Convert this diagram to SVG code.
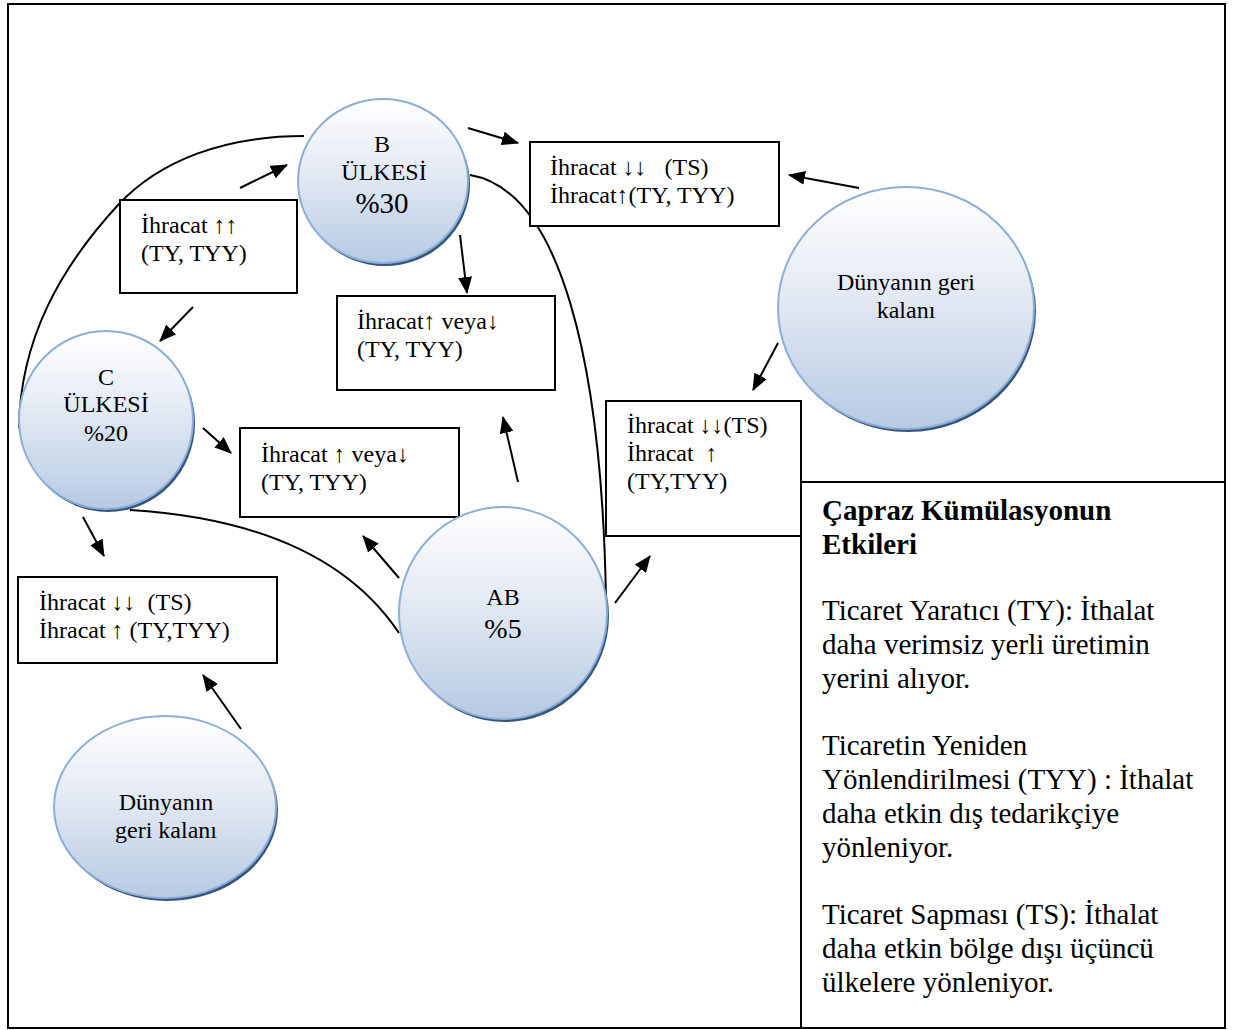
<svg xmlns="http://www.w3.org/2000/svg" width="1234" height="1030" viewBox="0 0 1234 1030">
<defs>
<linearGradient id="g" x1="0" y1="0" x2="0" y2="1">
<stop offset="0" stop-color="#ffffff"/>
<stop offset="0.45" stop-color="#e3e9f3"/>
<stop offset="1" stop-color="#b6cae3"/>
</linearGradient>
<marker id="ah" markerUnits="userSpaceOnUse" markerWidth="18" markerHeight="14" refX="16" refY="7" orient="auto">
<path d="M0,0 L17,7 L0,14 Z" fill="#000"/>
</marker>
<style>
.frame{fill:none;stroke:#000;stroke-width:2}
.box{fill:#fff;stroke:#000;stroke-width:2}
.sh{fill:#34557f}
.el{fill:url(#g);stroke:#8eaed6;stroke-width:2}
.t{font-family:"Liberation Serif","Times New Roman",serif;font-size:24px;fill:#000}
.c{text-anchor:middle}
.lg{font-family:"Liberation Serif","Times New Roman",serif;font-size:29px;fill:#000}
.b{font-weight:bold}
.ar{stroke:#000;stroke-width:2;fill:none;marker-end:url(#ah)}
.cv{stroke:#000;stroke-width:2;fill:none}
</style>
</defs>
<rect width="1234" height="1030" fill="#fff"/>
<g id="frame">
<rect class="frame" x="8" y="4" width="1217" height="1024"/>
<path class="frame" d="M801,1028 V482 H1225"/>
</g>
<g id="connectors">
<path class="cv" d="M304,136 C225,136 160,160 118,205 C60,268 20,340 19,428"/>
<path class="cv" d="M470,175 C560,190 602,360 606,600"/>
<path class="cv" d="M130,510 C260,518 350,560 399,633"/>
<line class="ar" x1="468" y1="128" x2="518" y2="143"/>
<line class="ar" x1="240" y1="188" x2="287" y2="165"/>
<line class="ar" x1="460" y1="235" x2="467" y2="293"/>
<line class="ar" x1="193" y1="307" x2="160" y2="341"/>
<line class="ar" x1="203" y1="428" x2="231" y2="453"/>
<line class="ar" x1="83" y1="517" x2="104" y2="556"/>
<line class="ar" x1="399" y1="578" x2="363" y2="536"/>
<line class="ar" x1="518" y1="482" x2="503" y2="417"/>
<line class="ar" x1="615" y1="603" x2="650" y2="556"/>
<line class="ar" x1="859" y1="188" x2="789" y2="175"/>
<line class="ar" x1="778" y1="343" x2="753" y2="390"/>
<line class="ar" x1="241" y1="729" x2="203" y2="675"/>
</g>
<g id="box1">
<rect class="box" x="120" y="200" width="177" height="93"/>
<text class="t" x="141" y="233">İhracat ↑↑</text>
<text class="t" x="141" y="261">(TY, TYY)</text>
</g>
<g id="box2">
<rect class="box" x="530" y="142" width="249" height="84"/>
<text class="t" x="550" y="175" xml:space="preserve">İhracat ↓↓   (TS)</text>
<text class="t" x="550" y="203">İhracat↑(TY, TYY)</text>
</g>
<g id="box3">
<rect class="box" x="337" y="296" width="218" height="94"/>
<text class="t" x="357" y="329">İhracat↑ veya↓</text>
<text class="t" x="357" y="357">(TY, TYY)</text>
</g>
<g id="box4">
<rect class="box" x="240" y="428" width="219" height="89"/>
<text class="t" x="261" y="462">İhracat ↑ veya↓</text>
<text class="t" x="261" y="490">(TY, TYY)</text>
</g>
<g id="box5">
<rect class="box" x="18" y="577" width="259" height="86"/>
<text class="t" x="39" y="610" xml:space="preserve">İhracat ↓↓  (TS)</text>
<text class="t" x="39" y="638">İhracat ↑ (TY,TYY)</text>
</g>
<g id="box6">
<rect class="box" x="606" y="401" width="195" height="135"/>
<text class="t" x="627" y="433">İhracat ↓↓(TS)</text>
<text class="t" x="627" y="461" xml:space="preserve">İhracat  ↑</text>
<text class="t" x="627" y="489">(TY,TYY)</text>
</g>
<g id="nodeB">
<ellipse class="sh" cx="385" cy="184" rx="85" ry="82"/>
<ellipse class="el" cx="383" cy="181" rx="85" ry="82"/>
<text class="t c" x="382" y="152">B</text>
<text class="t c" x="384" y="180">ÜLKESİ</text>
<text class="t c" x="382" y="213" style="font-size:29px">%30</text>
</g>
<g id="nodeC">
<ellipse class="sh" cx="108" cy="423" rx="87" ry="89"/>
<ellipse class="el" cx="106" cy="420" rx="87" ry="89"/>
<text class="t c" x="106" y="385">C</text>
<text class="t c" x="106" y="412">ÜLKESİ</text>
<text class="t c" x="106" y="441">%20</text>
</g>
<g id="nodeAB">
<ellipse class="sh" cx="505" cy="616" rx="104" ry="106"/>
<ellipse class="el" cx="503" cy="613" rx="104" ry="106"/>
<text class="t c" x="503" y="605">AB</text>
<text class="t c" x="503" y="638" style="font-size:28px">%5</text>
</g>
<g id="nodeDunya1">
<ellipse class="sh" cx="908" cy="311" rx="128" ry="121"/>
<ellipse class="el" cx="906" cy="308" rx="128" ry="121"/>
<text class="t c" x="906" y="290">Dünyanın geri</text>
<text class="t c" x="906" y="318">kalanı</text>
</g>
<g id="nodeDunya2">
<ellipse class="sh" cx="167" cy="810" rx="111" ry="91"/>
<ellipse class="el" cx="165" cy="807" rx="111" ry="91"/>
<text class="t c" x="166" y="810">Dünyanın</text>
<text class="t c" x="166" y="838">geri kalanı</text>
</g>
<g id="legend">
<text class="lg b" x="822" y="520">Çapraz Kümülasyonun</text>
<text class="lg b" x="822" y="554">Etkileri</text>
<text class="lg" x="822" y="620">Ticaret Yaratıcı (TY): İthalat</text>
<text class="lg" x="822" y="654">daha verimsiz yerli üretimin</text>
<text class="lg" x="822" y="688">yerini alıyor.</text>
<text class="lg" x="822" y="755">Ticaretin Yeniden</text>
<text class="lg" x="822" y="789">Yönlendirilmesi (TYY) : İthalat</text>
<text class="lg" x="822" y="823">daha etkin dış tedarikçiye</text>
<text class="lg" x="822" y="857">yönleniyor.</text>
<text class="lg" x="822" y="924">Ticaret Sapması (TS): İthalat</text>
<text class="lg" x="822" y="958">daha etkin bölge dışı üçüncü</text>
<text class="lg" x="822" y="992">ülkelere yönleniyor.</text>
</g>
</svg>
